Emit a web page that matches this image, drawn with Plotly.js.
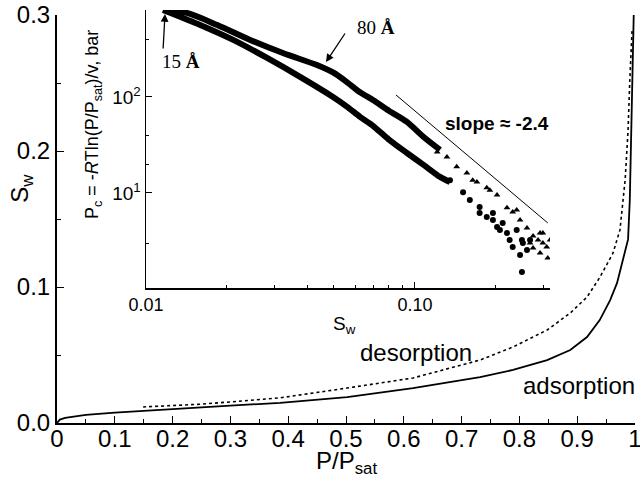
<!DOCTYPE html>
<html>
<head>
<meta charset="utf-8">
<script src="https://cdn.plot.ly/plotly-3.0.1.min.js"></script>
<style>html,body{margin:0;padding:0;background:#fff;}#chart{width:640px;height:491px;}</style>
</head>
<body>
<div id="chart"></div>
<script>
// ---- Main chart: water saturation vs relative pressure ----
const adsX = [0, 0.005, 0.014, 0.031, 0.05, 0.10, 0.15, 0.20, 0.30, 0.386, 0.502, 0.616, 0.732, 0.789, 0.848, 0.888, 0.917, 0.939, 0.957, 0.969, 0.979, 0.988, 0.991, 0.993, 0.995, 0.9965, 0.998];
const adsY = [0, 0.0025, 0.0038, 0.0050, 0.0060, 0.0076, 0.0090, 0.0105, 0.0128, 0.0148, 0.0191, 0.0257, 0.0338, 0.0390, 0.0463, 0.0537, 0.0632, 0.0757, 0.0904, 0.103, 0.120, 0.135, 0.164, 0.201, 0.2375, 0.274, 0.304];
const desX = [0.149, 0.20, 0.247, 0.30, 0.386, 0.502, 0.616, 0.732, 0.789, 0.848, 0.888, 0.917, 0.939, 0.962, 0.974, 0.983, 0.988, 0.991, 0.995];
const desY = [0.0118, 0.0128, 0.0138, 0.0155, 0.0185, 0.0257, 0.0331, 0.0463, 0.0559, 0.0684, 0.0809, 0.0926, 0.107, 0.125, 0.142, 0.179, 0.215, 0.252, 0.289];
const xTickVals = [0, 0.1, 0.2, 0.3, 0.4, 0.5, 0.6, 0.7, 0.8, 0.9, 1];
const xTickText = ['0', '0.1', '0.2', '0.3', '0.4', '0.5', '0.6', '0.7', '0.8', '0.9', '1'];
const yTickVals = [0, 0.1, 0.2, 0.3];
const yTickText = ['0.0', '0.1', '0.2', '0.3'];

// ---- Inset: capillary pressure vs saturation (log-log) ----
const upperSw = [0.01157, 0.0142, 0.0184, 0.0244, 0.0323, 0.0432, 0.0496, 0.0560, 0.0625, 0.0698, 0.0800, 0.0934, 0.108, 0.124];
const upperPc = [805, 750, 562, 393, 287, 215, 180, 142, 112, 93, 72, 55, 38, 28.1];
const lowerSw = [0.01157, 0.0159, 0.0211, 0.0282, 0.0374, 0.0496, 0.0560, 0.0625, 0.0698, 0.0800, 0.0934, 0.108, 0.124, 0.135];
const lowerPc = [805, 562, 393, 255, 162, 100, 79, 62, 50, 36, 26.1, 19.5, 14.7, 13.0];
const triSw = [0.121, 0.1315, 0.143, 0.156, 0.164, 0.170, 0.185, 0.190, 0.202, 0.220, 0.231, 0.239, 0.246, 0.261, 0.275, 0.287, 0.292, 0.299, 0.309, 0.312, 0.292, 0.275, 0.299, 0.268, 0.318];
const triPc = [26.7, 23.7, 18.7, 16.1, 13.6, 13.0, 11.3, 10.7, 9.5, 7.0, 6.34, 6.65, 5.24, 4.32, 3.56, 3.24, 3.83, 3.01, 2.74, 2.10, 2.37, 2.67, 3.83, 3.01, 3.24];
const cirSw = [0.135, 0.151, 0.160, 0.174, 0.174, 0.185, 0.195, 0.195, 0.202, 0.207, 0.212, 0.220, 0.225, 0.231, 0.239, 0.250, 0.252, 0.261, 0.268, 0.246, 0.250];
const cirPc = [13.6, 10.2, 8.45, 7.15, 6.19, 5.62, 5.24, 6.19, 4.42, 4.12, 4.87, 3.83, 3.24, 2.74, 4.12, 3.24, 3.01, 2.55, 3.24, 2.26, 1.50];
const slopeSw = [0.085, 0.312];
const slopePc = [105, 4.87];

const FONT = 'Liberation Sans, Arial, sans-serif';
const SERIF = 'Liberation Serif, Times New Roman, serif';

const traces = [
  {x: adsX, y: adsY, xaxis: 'x', yaxis: 'y', mode: 'lines', line: {color: '#000', width: 1.8}, hoverinfo: 'skip'},
  {x: desX, y: desY, xaxis: 'x', yaxis: 'y', mode: 'lines', line: {color: '#000', width: 1.6, dash: 'dot'}, hoverinfo: 'skip'},
  {x: upperSw, y: upperPc, xaxis: 'x2', yaxis: 'y2', mode: 'lines', line: {color: '#000', width: 6, shape: 'spline', smoothing: 0.8}, hoverinfo: 'skip'},
  {x: lowerSw, y: lowerPc, xaxis: 'x2', yaxis: 'y2', mode: 'lines', line: {color: '#000', width: 6, shape: 'spline', smoothing: 0.8}, hoverinfo: 'skip'},
  {x: triSw, y: triPc, xaxis: 'x2', yaxis: 'y2', mode: 'markers', marker: {symbol: 'triangle-up', size: 6, color: '#000'}, hoverinfo: 'skip'},
  {x: cirSw, y: cirPc, xaxis: 'x2', yaxis: 'y2', mode: 'markers', marker: {symbol: 'circle', size: 6, color: '#000'}, hoverinfo: 'skip'},
  {x: slopeSw, y: slopePc, xaxis: 'x2', yaxis: 'y2', mode: 'lines', line: {color: '#000', width: 1}, hoverinfo: 'skip'}
];

function ann(x, y, text, size, extra) {
  return Object.assign({xref: 'paper', yref: 'paper', x: x, y: y, text: text, showarrow: false,
    xanchor: 'center', yanchor: 'middle', font: {size: size, family: FONT, color: '#000'}}, extra || {});
}

const layout = {
  width: 640, height: 491,
  margin: {l: 57, r: 5, t: 8, b: 68},
  paper_bgcolor: '#fff', plot_bgcolor: 'rgba(0,0,0,0)',
  showlegend: false,
  font: {family: FONT, color: '#000'},
  xaxis: {
    range: [0, 1], domain: [0, 1], anchor: 'y',
    tickmode: 'array', tickvals: xTickVals, ticktext: xTickText,
    ticks: 'inside', ticklen: 7, tickwidth: 1, tickcolor: '#000',
    ticklabeloverflow: 'allow', ticklabelstandoff: -7,
    minor: {tickmode: 'linear', tick0: 0, dtick: 0.05, ticks: 'inside', ticklen: 4, tickwidth: 1, tickcolor: '#000'},
    showline: true, linecolor: '#000', linewidth: 2,
    showgrid: false, zeroline: false,
    tickfont: {size: 24, family: FONT}
  },
  yaxis: {
    range: [0, 0.3], domain: [0, 0.9831], anchor: 'x',
    tickmode: 'array', tickvals: yTickVals, ticktext: yTickText,
    ticks: 'inside', ticklen: 7, tickwidth: 1, tickcolor: '#000',
    ticklabeloverflow: 'allow',
    minor: {tickmode: 'linear', tick0: 0, dtick: 0.05, ticks: 'inside', ticklen: 4, tickwidth: 1, tickcolor: '#000'},
    showline: true, linecolor: '#000', linewidth: 2,
    showgrid: false, zeroline: false,
    tickfont: {size: 24, family: FONT}
  },
  xaxis2: {
    type: 'log', range: [-2, -0.4976], domain: [0.154, 0.853], anchor: 'y2',
    tickmode: 'array', tickvals: [0.01, 0.1], ticktext: ['0.01', '0.10'],
    ticks: 'inside', ticklen: 6, tickwidth: 1, tickcolor: '#000',
    minor: {tickmode: 'array', tickvals: [0.02,0.03,0.04,0.05,0.06,0.07,0.08,0.09,0.2,0.3], ticks: 'inside', ticklen: 3, tickwidth: 1, tickcolor: '#000'},
    showline: true, linecolor: '#000', linewidth: 1.5,
    showgrid: false, zeroline: false,
    tickfont: {size: 18, family: FONT}
  },
  yaxis2: {
    type: 'log', range: [0.01, 2.906], domain: [0.3253, 0.9952], anchor: 'x2',
    tickmode: 'array', tickvals: [10, 100], ticktext: ['10<sup>1</sup>', '10<sup>2</sup>'],
    ticks: 'inside', ticklen: 6, tickwidth: 1, tickcolor: '#000',
    minor: {tickmode: 'array', tickvals: [3, 20, 40, 400], ticks: 'inside', ticklen: 3, tickwidth: 1, tickcolor: '#000'},
    showline: true, linecolor: '#000', linewidth: 1.5,
    showgrid: false, zeroline: false,
    tickfont: {size: 19, family: FONT}
  },
  annotations: [
    ann(0.5, -0.094, 'P/P<sub>sat</sub>', 24),
    ann(-0.062, 0.565, 'S<sub>w</sub>', 24, {textangle: -90}),
    ann(0.0623, 0.718, 'P<sub>c</sub> = -<i>R</i>Tln(P/P<sub>sat</sub>)/v, bar', 18, {textangle: -90}),
    ann(0.498, 0.236, 'S<sub>w</sub>', 19),
    ann(0.621, 0.171, 'desorption', 24),
    ann(0.903, 0.0892, 'adsorption', 24),
    ann(0.761, 0.7205, '<b>slope ≈ -2.4</b>', 19),
    ann(0.2145, 0.870, '15 <b>Å</b>', 19, {font: {size: 19, family: SERIF, color: '#000'}}),
    ann(0.552, 0.954, '80 <b>Å</b>', 19, {font: {size: 19, family: SERIF, color: '#000'}}),
    {xref: 'paper', yref: 'paper', x: 0.1869, y: 0.9855, ax: -2, ay: 36, text: '', showarrow: true, arrowhead: 2, arrowsize: 1.2, arrowwidth: 1.3, arrowcolor: '#000'},
    {xref: 'paper', yref: 'paper', x: 0.4654, y: 0.8699, ax: 20, ay: -30, text: '', showarrow: true, arrowhead: 2, arrowsize: 1.2, arrowwidth: 1.3, arrowcolor: '#000'}
  ]
};

Plotly.newPlot('chart', traces, layout, {displayModeBar: false, staticPlot: true});
</script>
</body>
</html>
